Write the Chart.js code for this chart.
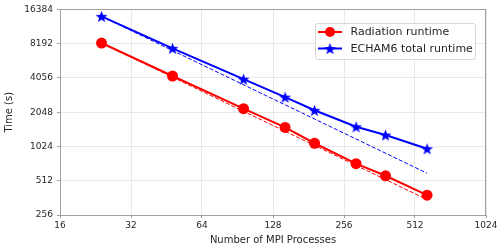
<!DOCTYPE html>
<html>
<head>
<meta charset="utf-8">
<script src="https://cdn.jsdelivr.net/npm/chart.js@4/dist/chart.umd.min.js"></script>
<style>
  html,body{margin:0;padding:0;background:#fff;}
  #wrap{width:500px;height:248px;}
</style>
</head>
<body>
<div id="wrap"><canvas id="c" width="500" height="248"></canvas></div>
<script>
const procs = [24, 48, 96, 144, 192, 288, 384, 576];
const radTime = [8300, 4260, 2200, 1505, 1093, 723, 566, 382];
const echamTime = [14240, 7460, 4000, 2780, 2130, 1527, 1292, 978];
// ideal scaling guide lines (read endpoints)
const idealX = [24, 576];
const radIdeal = [8300, 350];
const echamIdeal = [14240, 596];
const xTicks = [16, 32, 64, 128, 256, 512, 1024];
const yTicks = [256, 512, 1024, 2048, 4096, 8192, 16384];
const yTickLabels = ['256', '512', '1024', '2048', '4056', '8192', '16384'];

const RED = '#ff0000', BLUE = '#0000ff';
const FONT = "'DejaVu Sans', sans-serif";

function starCanvas(r, color){
  const s = Math.ceil(r*2+2), c = document.createElement('canvas');
  c.width = s; c.height = s;
  const g = c.getContext('2d'), cx = s/2, cy = s/2 + r*0.1;
  g.beginPath();
  for(let i=0;i<10;i++){
    const rr = i%2 ? r*0.42 : r, a = -Math.PI/2 + i*Math.PI/5;
    g.lineTo(cx + rr*Math.cos(a), cy + rr*Math.sin(a));
  }
  g.closePath(); g.fillStyle = color; g.fill();
  return c;
}
const star = starCanvas(6.2, BLUE);

const pts = (xs, ys) => xs.map((x,i)=>({x, y: ys[i]}));

const frameAndLegend = {
  id: 'frameAndLegend',
  afterDraw(chart){
    const {ctx, chartArea:a} = chart;
    ctx.save();
    ctx.strokeStyle = '#a0a0a0'; ctx.lineWidth = 1;
    ctx.strokeRect(Math.round(a.left)+0.5, Math.round(a.top)+0.5, Math.round(a.right-a.left)-1, Math.round(a.bottom-a.top));
    // legend box
    const bx = 315.5, by = 23.5, bw = 160, bh = 36;
    ctx.fillStyle = 'rgba(255,255,255,0.8)';
    ctx.strokeStyle = '#d8d8d8';
    ctx.beginPath(); ctx.roundRect(bx, by, bw, bh, 2); ctx.fill(); ctx.stroke();
    const items = chart.data.datasets.filter(d=>!d.hideInLegend);
    ctx.font = '11px ' + FONT; ctx.textBaseline = 'middle';
    items.forEach((d,i)=>{
      const y = by + 8.5 + i*16.5;
      ctx.strokeStyle = d.borderColor; ctx.lineWidth = 2;
      ctx.beginPath(); ctx.moveTo(bx+2.5, y); ctx.lineTo(bx+26.5, y); ctx.stroke();
      if(d.pointStyle === 'circle'){
        ctx.fillStyle = d.borderColor; ctx.beginPath(); ctx.arc(bx+14.5, y, 5, 0, Math.PI*2); ctx.fill();
      } else {
        ctx.drawImage(d.pointStyle, bx+14.5-d.pointStyle.width/2, y-d.pointStyle.height/2);
      }
      ctx.fillStyle = '#262626';
      ctx.fillText(d.label, bx+35, y+0.5);
    });
    ctx.restore();
  }
};

new Chart(document.getElementById('c'), {
  type: 'line',
  data: {
    datasets: [
      {label:'radIdeal', hideInLegend:true, data: pts(idealX, radIdeal), borderColor: RED, borderWidth: 1, borderDash:[4,2], pointRadius:0},
      {label:'echamIdeal', hideInLegend:true, data: pts(idealX, echamIdeal), borderColor: BLUE, borderWidth: 1, borderDash:[4,2], pointRadius:0},
      {label:'Radiation runtime', data: pts(procs, radTime), borderColor: RED, backgroundColor: RED, borderWidth: 2,
        pointStyle:'circle', pointRadius: 5.5, pointBorderWidth: 0},
      {label:'ECHAM6 total runtime', data: pts(procs, echamTime), borderColor: BLUE, backgroundColor: BLUE, borderWidth: 2,
        pointStyle: star, pointRadius: 6}
    ]
  },
  options: {
    responsive: false, animation: false,
    layout: {padding: {top: 7, right: 14, left: 0, bottom: 0}},
    plugins: {legend: {display:false}, tooltip: {enabled:false}},
    scales: {
      x: {
        type: 'logarithmic', min: 16, max: 1024,
        afterBuildTicks: s => { s.ticks = xTicks.map(v=>({value:v})); },
        afterFit: s => { s.height = 33; },
        ticks: {color:'#262626', font:{family:FONT, size:9}, padding: 2, maxRotation:0, autoSkip:false,
          callback: v => String(v)},
        grid: {color:'#e8e8e8', lineWidth:1, drawTicks:true, tickLength:3, tickColor:'#a0a0a0'},
        border: {display:false},
        title: {display:true, text:'Number of MPI Processes', color:'#262626', font:{family:FONT, size:10}, padding:{top:2, bottom:2}}
      },
      y: {
        type: 'logarithmic', min: 256, max: 16384,
        afterBuildTicks: s => { s.ticks = yTicks.map(v=>({value:v})); },
        afterFit: s => { s.width = 60; },
        ticks: {color:'#262626', font:{family:FONT, size:9}, padding: 4, autoSkip:false,
          callback: (v) => yTickLabels[yTicks.indexOf(v)]},
        grid: {color:'#e8e8e8', lineWidth:1, drawTicks:true, tickLength:3, tickColor:'#a0a0a0'},
        border: {display:false},
        title: {display:true, text:'Time (s)', color:'#262626', font:{family:FONT, size:10}, padding:{top:3, bottom:0}}
      }
    }
  },
  plugins: [frameAndLegend]
});
</script>
</body>
</html>
